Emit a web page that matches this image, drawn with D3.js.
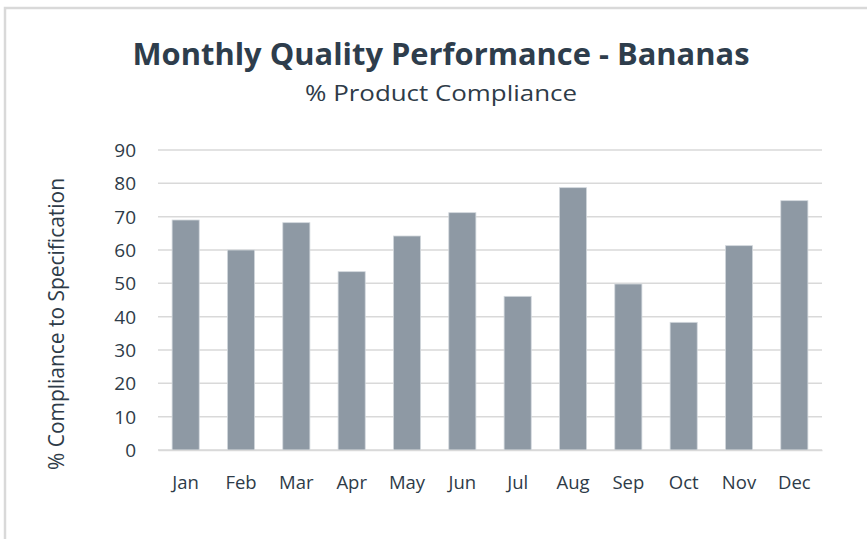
<!DOCTYPE html>
<html><head><meta charset="utf-8">
<script src="https://cdn.jsdelivr.net/npm/d3@7"></script>
<style>body{margin:0;background:#fff;font-family:"Open Sans",sans-serif;}</style>
</head><body><svg id="c" width="867" height="539"></svg>
<script>
const months = ["Jan","Feb","Mar","Apr","May","Jun","Jul","Aug","Sep","Oct","Nov","Dec"];
const compliance = [69, 60, 68.2, 53.5, 64.2, 71.2, 46.1, 78.7, 49.8, 38.3, 61.3, 74.8];
const yTicks = [0,10,20,30,40,50,60,70,80,90];
const titleText = "Monthly Quality Performance - Bananas";
const subtitleText = "% Product Compliance";
const yLabel = "% Compliance to Specification";

const svg = d3.select("#c");
const textColor = "#2e3b48";
// outer chart border
svg.append("rect").attr("x",5).attr("y",8).attr("width",880).attr("height",560)
  .attr("fill","#fff").attr("stroke","#d9d9d9").attr("stroke-width",2.5);

const x = d3.scaleBand().domain(months).range([158,822]).paddingInner(0.51).paddingOuter(0.255);
const y = d3.scaleLinear().domain([0,90]).range([450,150]);

// gridlines
svg.append("g").selectAll("line").data(yTicks).join("line")
  .attr("x1",158).attr("x2",822).attr("y1",d=>y(d)).attr("y2",d=>y(d))
  .attr("stroke","#d9d9d9").attr("stroke-width",1.5);

// bars
svg.append("g").selectAll("rect").data(compliance).join("rect")
  .attr("x",(d,i)=>x(months[i])).attr("width",x.bandwidth())
  .attr("y",d=>y(d)).attr("height",d=>y(0)-y(d))
  .attr("fill","#8e99a4").attr("stroke","#d3d8dd").attr("stroke-width",0.8);

// y axis
const yAxis = d3.axisLeft(y).tickValues(yTicks).tickSize(0).tickPadding(0);
const ga = svg.append("g").attr("transform","translate(136,0)").call(yAxis);
ga.select(".domain").remove();
ga.selectAll("text").attr("font-size",19).attr("fill",textColor)
  .attr("font-family","'Open Sans',sans-serif").attr("dy","0.35em");

// x axis
const xAxis = d3.axisBottom(x).tickSize(0).tickPadding(0);
const gx = svg.append("g").attr("transform","translate(0,450)").call(xAxis);
gx.select(".domain").attr("stroke","#d9d9d9").attr("stroke-width",1.5);
gx.selectAll("text").attr("font-size",18.5).attr("fill",textColor)
  .attr("font-family","'Open Sans',sans-serif").attr("dy",0).attr("y",39);

// titles
svg.append("text").attr("x",441).attr("y",65).attr("text-anchor","middle")
  .attr("font-size",30).attr("font-weight","bold").attr("fill","#2e3d4c")
  .attr("textLength",617).attr("lengthAdjust","spacingAndGlyphs").text(titleText);
svg.append("text").attr("x",441).attr("y",101).attr("text-anchor","middle")
  .attr("font-size",21).attr("fill",textColor)
  .attr("textLength",272).attr("lengthAdjust","spacingAndGlyphs").text(subtitleText);

// y label
svg.append("text").attr("transform","translate(64,324) rotate(-90)")
  .attr("text-anchor","middle").attr("font-size",21).attr("fill",textColor)
  .attr("textLength",292).attr("lengthAdjust","spacingAndGlyphs").text(yLabel);
</script></body></html>
